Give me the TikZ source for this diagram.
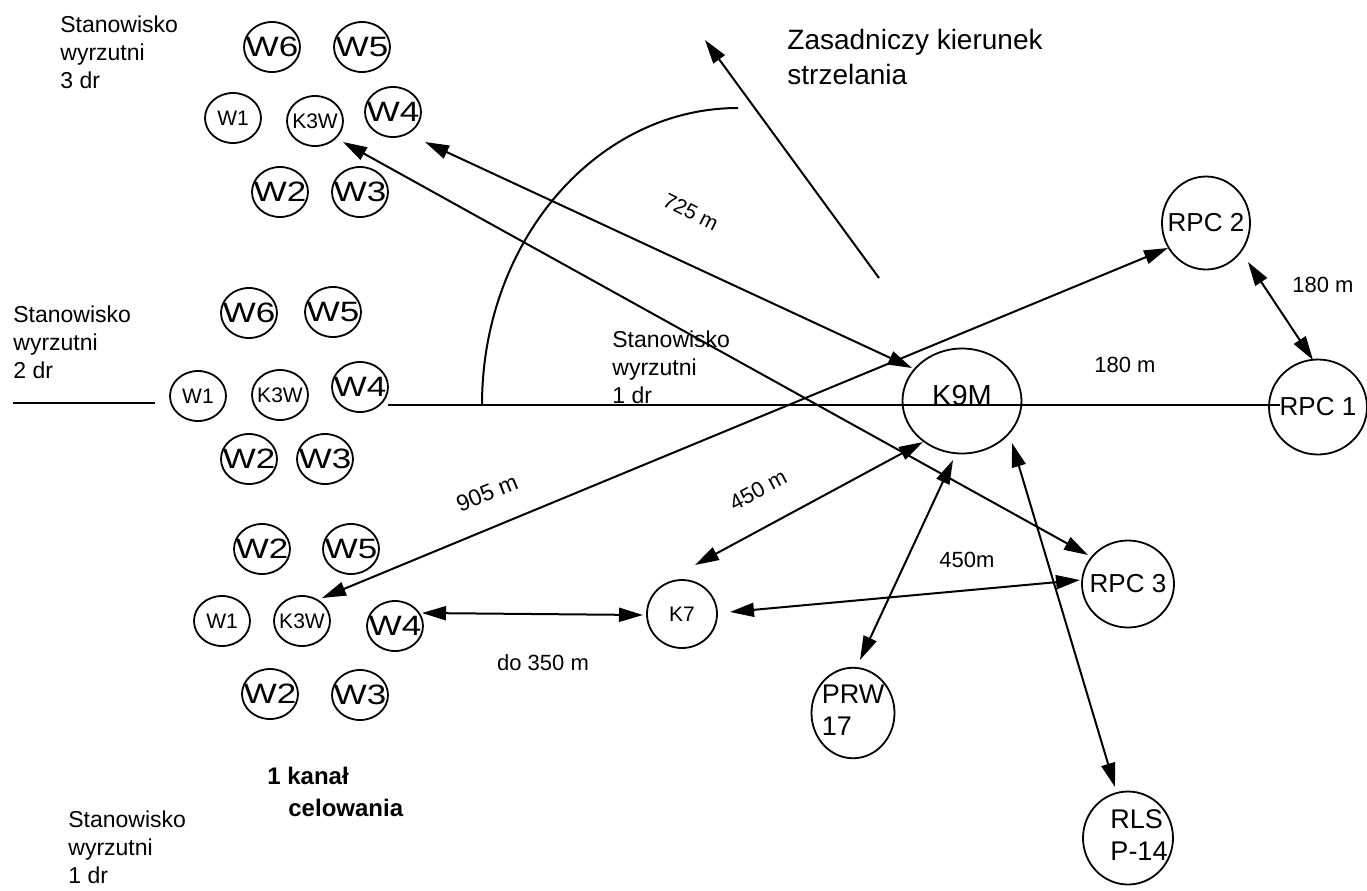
\documentclass[tikz,border=0pt]{standalone}
\usepackage{fontspec}
\setmainfont{Liberation Sans}
\usepackage{graphicx}
\usetikzlibrary{shapes.geometric, arrows.meta, calc}

\newcommand{\wbig}[1]{\makebox[0pt]{\scalebox{1.25}[1]{#1}}}
\newcommand{\wsm}[1]{\makebox[0pt]{#1}}
\newcommand{\twoln}[3][0pt]{\makebox[0pt]{\hspace*{#1}\begin{tabular}{@{}l@{}}#2\\#3\end{tabular}}}

\tikzset{
 ring/.style 2 args={draw, ellipse, line width=0.9pt, inner sep=0pt, outer sep=0pt, minimum width=#1, minimum height=#2},
 wring/.style={ring={28pt}{25pt}},
 bigf/.style={font=\fontsize{14}{14}\selectfont},
 smf/.style={font=\fontsize{10.5}{12}\selectfont},
 rpcf/.style={font=\fontsize{13}{13}\selectfont},
 dbl/.style={line width=1pt, {Triangle[length=12pt,width=7pt]}-{Triangle[length=12pt,width=7pt]}},
 sarrow/.style={line width=1pt, -{Triangle[length=12pt,width=7pt]}},
 ln/.style={line width=1pt},
 sttxt/.style={font=\fontsize{11.5}{14}\selectfont, align=left, anchor=west, inner sep=0pt},
 dlab/.style={font=\fontsize{11}{13}\selectfont, inner sep=0pt},
}

\begin{document}
\begin{tikzpicture}[x=0.5pt, y=-0.5pt]
\useasboundingbox (0,0) rectangle (1367,890);

% ---- Stanowisko wyrzutni 3 dr
\node[wring,bigf] (t6) at (272,47) {\wbig{W6}};
\node[wring,bigf] (t5) at (362,47) {\wbig{W5}};
\node[wring,smf]  (t1) at (233,118) {\wsm{W1}};
\node[wring,smf]  (tk) at (315,121) {\wsm{K3W}};
\node[wring,bigf] (t4) at (393,112) {\wbig{W4}};
\node[wring,bigf] (t2) at (280,192) {\wbig{W2}};
\node[wring,bigf] (t3) at (360,192) {\wbig{W3}};

% ---- Stanowisko wyrzutni 2 dr
\node[wring,bigf] (s6) at (249,313) {\wbig{W6}};
\node[wring,bigf] (s5) at (333,312) {\wbig{W5}};
\node[wring,smf]  (s1) at (198,396) {\wsm{W1}};
\node[wring,smf]  (sk) at (280,395) {\wsm{K3W}};
\node[wring,bigf] (s4) at (360,387) {\wbig{W4}};
\node[wring,bigf] (s2) at (249,459) {\wbig{W2}};
\node[wring,bigf] (s3) at (325,459) {\wbig{W3}};

% ---- Stanowisko wyrzutni 1 dr
\node[wring,bigf] (u2a) at (262,549) {\wbig{W2}};
\node[wring,bigf] (u5)  at (351,549) {\wbig{W5}};
\node[wring,smf]  (u1)  at (222,621) {\wsm{W1}};
\node[wring,smf]  (uk)  at (302,621) {\wsm{K3W}};
\node[wring,bigf] (u4)  at (395,626) {\wbig{W4}};
\node[wring,bigf] (u2b) at (270,694) {\wbig{W2}};
\node[wring,bigf] (u3)  at (360,695) {\wbig{W3}};

% ---- other stations
\node[ring={59.5pt}{52.5pt}, font=\fontsize{14.5}{14.5}\selectfont, text height=10pt, text depth=6pt] (k9) at (962,401) {\wsm{K9M}};
\node[ring={35pt}{34pt}, smf] (k7) at (682,614) {\wsm{K7}};
\node[ring={44pt}{46.5pt}, rpcf] (r2) at (1206,223) {\wsm{RPC 2}};
\node[ring={49pt}{47.5pt}, rpcf] (r1) at (1318,407) {\wsm{RPC 1}};
\node[ring={46pt}{43.5pt}, rpcf] (r3) at (1128,584) {\wsm{RPC 3}};
\node[ring={41.5pt}{41.5pt}, font=\fontsize{13.5}{16}\selectfont] (prw) at (853,713) {\twoln{PRW}{17}};
\node[ring={45pt}{46.5pt}, font=\fontsize{13.5}{16}\selectfont] (rls) at (1128,838) {\twoln[11pt]{RLS}{P-14}};

% ---- lines
\coordinate (hA) at (388,405);
\draw[ln, shorten >=-5.5pt] (hA) -- (hA -| r1.west);
\coordinate (hL1) at (13,403);
\coordinate (hL2) at (155,403);
\draw[ln] (hL1) -- (hL2);
\draw[ln] (482,405) arc[start angle=180, end angle=90, x radius=128pt, y radius=148.5pt];
\coordinate (dS) at (879,278);
\coordinate (dE) at (705,40);
\draw[sarrow] (dS) -- (dE);

% ---- connectors (ends placed relative to the named stations)
\draw[dbl] ($(t4)+(32,30)$) -- ($(k9)+(-50,-33)$);
\draw[dbl] ($(tk)+(28,21)$) -- ($(r3)+(-40,-29)$);
\draw[dbl] ($(uk)+(20,-23)$) -- ($(r2)+(-38,25)$);
\draw[dbl] ($(k9)+(-39,41)$) -- ($(k7)+(13,-49)$);
\draw[dbl] ($(k9)+(-9,59)$) -- ($(prw)+(7,-53)$);
\draw[dbl] ($(k9)+(50,42)$) -- ($(rls)+(-13,-51)$);
\draw[dbl] ($(k7)+(48,-2)$) -- ($(r3)+(-48,-4)$);
\draw[dbl] ($(u4)+(27,-13)$) -- ($(k7)+(-39,1)$);
\draw[dbl] ($(r2)+(42,39)$) -- ($(r1)+(-5,-47)$);

% ---- distance labels
\node[dlab, font=\fontsize{10.5}{12}\selectfont, rotate=-27] (l725) at (691,212) {725 m};
\node[dlab, font=\fontsize{11.5}{13}\selectfont, rotate=22] (l905) at (487,493) {905 m};
\node[dlab, rotate=28] (l450a) at (758,490) {450 m};
\node[dlab] (l450b) at (967,560) {450m};
\node[dlab] (l350) at (543,663) {do 350 m};
\node[dlab] (l180a) at (1323,285) {180 m};
\node[dlab] (l180b) at (1125,365) {180 m};

% ---- texts
\node[sttxt] (st3) at (60,52) {Stanowisko\\wyrzutni\\3 dr};
\node[sttxt] (st2) at (13,342) {Stanowisko\\wyrzutni\\2 dr};
\node[sttxt] (st1) at (612,367) {Stanowisko\\wyrzutni\\1 dr};
\node[sttxt] (st1b) at (68,847) {Stanowisko\\wyrzutni\\1 dr};
\node[sttxt, font=\fontsize{14}{17.5}\selectfont] (zk) at (787,57) {Zasadniczy kierunek\\strzelania};
\node[sttxt, font=\bfseries\fontsize{12}{16}\selectfont] (kc) at (267,792) {1 kanał\\\hspace*{10.5pt}celowania};
\end{tikzpicture}
\end{document}
